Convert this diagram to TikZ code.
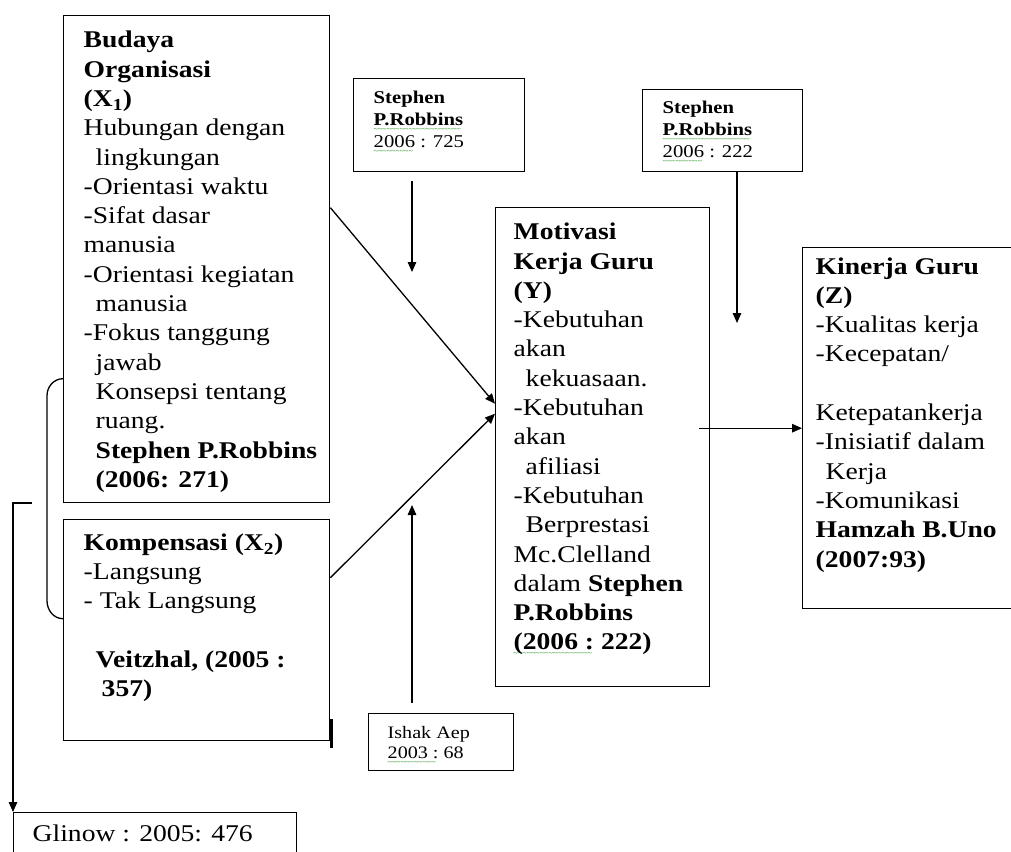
\documentclass[tikz,border=0pt]{standalone}
\usepackage{fontspec}
\setmainfont{Liberation Serif}[FakeStretch=1.15]
\usetikzlibrary{positioning, calc, arrows.meta}
\newsavebox\ejaanbox
\newcommand\ejaan[1]{\leavevmode\sbox\ejaanbox{#1}\rlap{\raisebox{-6pt}[0pt][0pt]{\color{green!50!black}\fontsize{7}{7}\selectfont\mdseries\leaders\hbox{\textasciitilde}\hskip\wd\ejaanbox}}\usebox\ejaanbox}

\begin{document}
\begin{tikzpicture}[x=1pt, y=-1pt, >={Triangle[length=10pt, width=8.5pt]},
	kotak/.style={draw, line width=1.4pt, rectangle, anchor=north west},
	besar/.style={font=\fontsize{24}{29.3}\selectfont},
	kecil/.style={font=\fontsize{18}{22}\selectfont},
	garis/.style={line width=1.3pt}]
	\useasboundingbox[fill=white] (0,0) rectangle (1011,851);
	\node[kotak, besar, inner xsep=20pt, inner ysep=15.5pt] (X1) at (63,15) {\parbox[t][456pt][t]{226pt}{\raggedright
		\textbf{Budaya}\\ \textbf{Organisasi}\\ \textbf{(X\textsubscript{1})}\\
		Hubungan dengan\\ \hspace*{12pt}lingkungan\\ -Orientasi waktu\\ -Sifat dasar\\ manusia\\
		-Orientasi kegiatan\\ \hspace*{12pt}manusia\\ -Fokus tanggung\\ \hspace*{12pt}jawab\\
		\hspace*{12pt}Konsepsi tentang\\ \hspace*{12pt}ruang.\\
		\mbox{\hspace*{12pt}\textbf{Stephen P.Robbins}}\\ \hspace*{12pt}\textbf{(2006: 271)}}};
	\node[kotak, besar, inner xsep=20pt, inner ysep=14pt] (X2) at (63,519) {\parbox[t][193pt][t]{226pt}{\raggedright
		\textbf{Kompensasi (X\textsubscript{2})}\\ -Langsung\\ - Tak Langsung\\ \mbox{}\\
		\hspace*{12pt}\textbf{Veitzhal, (2005 :}\\ \hspace*{18pt}\textbf{357)}}};
	\node[kotak, besar, inner xsep=18pt, inner ysep=15.4pt] (Y) at (495,207) {\parbox[t][448.2pt][t]{178pt}{\raggedright
		\textbf{Motivasi}\\ \textbf{Kerja Guru}\\ \textbf{(Y)}\\
		-Kebutuhan\\ akan\\ \hspace*{12pt}kekuasaan.\\ -Kebutuhan\\ akan\\ \hspace*{12pt}afiliasi\\
		-Kebutuhan\\ \hspace*{12pt}Berprestasi\\ Mc.Clelland\\ dalam \textbf{Stephen}\\
		\textbf{P.Robbins}\\ \textbf{\ejaan{(2006 :} 222)}}};
	\node[kotak, besar, inner xsep=13pt, inner ysep=9.7pt] (Z) at (802,247) {\parbox[t][341.6pt][t]{202pt}{\raggedright
		\textbf{Kinerja Guru}\\ \textbf{(Z)}\\ -Kualitas kerja\\ -Kecepatan/\\ \mbox{}\\
		Ketepatankerja\\ -Inisiatif dalam\\ \hspace*{10pt}Kerja\\ -Komunikasi\\
		\textbf{Hamzah B.Uno}\\ \textbf{(2007:93)}}};
	\node[kotak, kecil, inner xsep=20pt, inner ysep=12.3pt] (S1) at (353,78) {\parbox[t][68.4pt][t]{131pt}{\raggedright
		\textbf{Stephen}\\ \textbf{\ejaan{P.Robbins}}\\ \ejaan{2006} : 725}};
	\node[kotak, kecil, inner xsep=20pt, inner ysep=11.3pt] (S2) at (642,89) {\parbox[t][59.4pt][t]{120pt}{\raggedright
		\textbf{Stephen}\\ \textbf{\ejaan{P.Robbins}}\\ \ejaan{2006} : 222}};
	\node[kotak, font=\fontsize{17.5}{20}\selectfont, inner xsep=19pt, inner ysep=12.7pt] (I) at (368,713) {\parbox[t][31.6pt][t]{107pt}{\raggedright
		Ishak Aep\\ \ejaan{2003 :} 68}};
	\node[kotak, besar, inner xsep=19pt, inner ysep=11.7pt] (G) at (13,812) {\parbox[t][40pt][t]{245pt}{\raggedright
		Glinow : 2005: 476}};
	\coordinate (ujung1) at (412,272);
	\coordinate (ujung2) at (737,323);
	\coordinate (ujung3) at (412,505);
	\coordinate (pangkal) at (32,503);
	\draw[garis, ->] ([yshift=51.5pt]X1.east) -- ([yshift=43.5pt]Y.west);
	\draw[garis, ->] ([yshift=52.5pt]X2.east) -- ([yshift=33.5pt]Y.west);
	\draw[garis, ->] ([xshift=-11pt]Y.east |- Z.west) -- (Z.west);
	\draw[garis, ->] ([yshift=-9pt]S1.south -| ujung1) -- (ujung1);
	\draw[garis, ->] (S2.south -| ujung2) -- (ujung2);
	\draw[garis, ->] ([yshift=10pt]I.north -| ujung3) -- (ujung3);
	\draw[garis, ->] (pangkal) -| (G.north west);
	\draw[garis] ([yshift=-119.5pt]X1.west) to[out=180, in=90] ++(-16,17) -- ++(0,205) to[out=-90, in=180] ([yshift=11.5pt]X2.west);
	\draw[line width=3pt] ([xshift=1.5pt, yshift=22pt]X2.south east) -- ([xshift=1.5pt, yshift=-7pt]X2.south east);
\end{tikzpicture}
\end{document}
